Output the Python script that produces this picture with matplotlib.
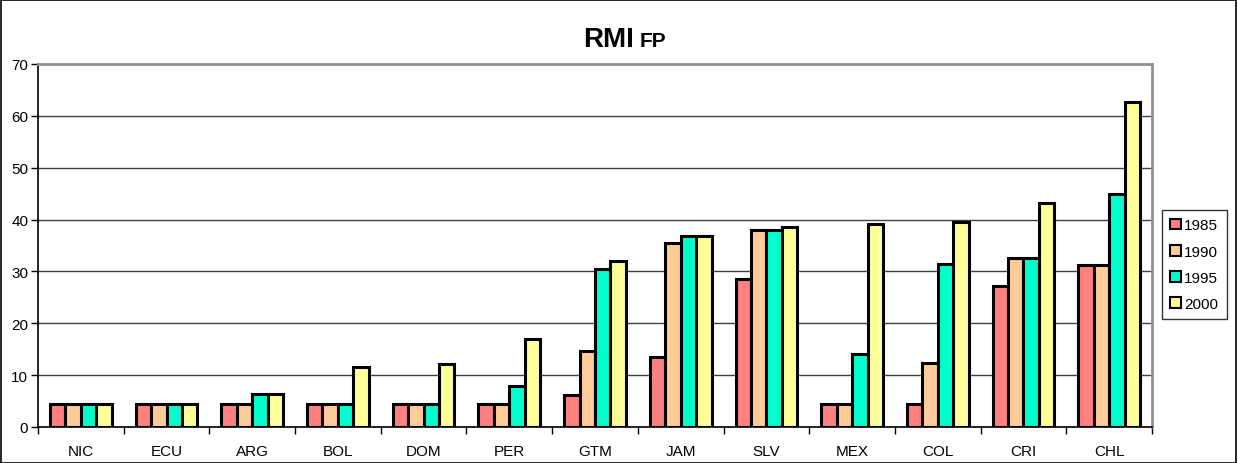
import matplotlib
matplotlib.use("Agg")
import matplotlib.pyplot as plt
import numpy as np
from matplotlib.patches import Rectangle

plt.rcParams['font.family'] = ['Liberation Sans', 'DejaVu Sans']

countries = ["NIC", "ECU", "ARG", "BOL", "DOM", "PER", "GTM", "JAM", "SLV", "MEX", "COL", "CRI", "CHL"]
years = ["1985", "1990", "1995", "2000"]
v1985 = [4.4, 4.4, 4.4, 4.4, 4.4, 4.4, 6.1, 13.5, 28.6, 4.4, 4.4, 27.2, 31.3]
v1990 = [4.4, 4.4, 4.4, 4.4, 4.4, 4.4, 14.6, 35.5, 37.9, 4.4, 12.4, 32.6, 31.3]
v1995 = [4.4, 4.4, 6.3, 4.4, 4.4, 7.9, 30.4, 36.8, 37.9, 14.0, 31.4, 32.6, 45.0]
v2000 = [4.4, 4.4, 6.3, 11.5, 12.1, 16.9, 32.0, 36.8, 38.5, 39.1, 39.6, 43.1, 62.6]
colors = ["#FF8080", "#FFCC99", "#00FFCC", "#FFFF99"]

fig = plt.figure(figsize=(12.38, 4.64), dpi=100)
ax = fig.add_axes([38/1238, 1 - 428/464, (1152-38)/1238, (428-65)/464])

series = [v1985, v1990, v1995, v2000]
x = np.arange(len(countries))
w = 0.18
for i, (vals, c, yr) in enumerate(zip(series, colors, years)):
    ax.bar(x + (i - 1.5) * w, vals, width=w, color=c, edgecolor="black",
           linewidth=2.2, label=yr, zorder=3)

ax.set_xlim(-0.5, len(countries) - 0.5)
ax.set_ylim(0, 70)
ax.set_yticks(range(0, 71, 10))
ax.yaxis.grid(True, color="#404040", linewidth=1, zorder=0)
ax.set_xticks(x)
ax.set_xticklabels(countries, fontsize=11)
ax.set_xticks(np.arange(-0.5, len(countries), 1), minor=True)
ax.tick_params(axis="x", which="major", length=0, pad=12)
ax.tick_params(axis="x", which="minor", length=5, width=1, direction="out")
ax.tick_params(axis="y", length=5, width=1, labelsize=11, pad=2)
for s in ["left", "bottom"]:
    ax.spines[s].set_color("black")
    ax.spines[s].set_linewidth(1.2)
for s in ["top", "right"]:
    ax.spines[s].set_color("#909090")
    ax.spines[s].set_linewidth(2)

leg = ax.legend(loc="upper left", bbox_to_anchor=((1162 - 38) / (1152 - 38), (428 - 211) / (428 - 65)),
                frameon=True, fancybox=False, edgecolor="black", fontsize=11,
                handlelength=0.7, handleheight=0.7, handletextpad=0.2,
                borderpad=0.55, labelspacing=0.8, borderaxespad=0)
leg.get_frame().set_linewidth(1)
for h in leg.legend_handles:
    h.set_linewidth(1.5)

fig.text(634/1238, 1 - 47/464, "RMI", fontsize=20, fontweight="bold", ha="right", va="baseline")
fig.text(640/1238, 1 - 47/464, "FP", fontsize=15, fontweight="bold", ha="left", va="baseline")

fig.patches.append(Rectangle((0.0005, 0.001), 0.998, 0.997, transform=fig.transFigure,
                             fill=False, edgecolor="black", linewidth=1.2))

fig.savefig("out.png", dpi=100)
